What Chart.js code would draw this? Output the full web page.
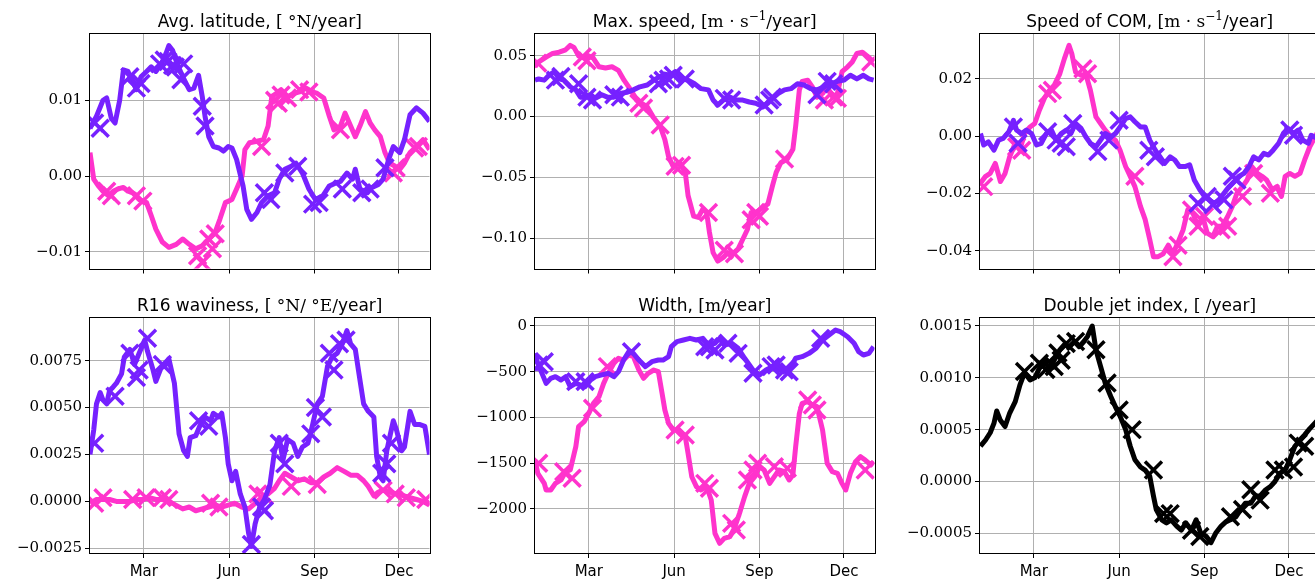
<!DOCTYPE html>
<html>
<head>
<meta charset="utf-8">
<script src="https://cdn.jsdelivr.net/npm/chart.js@4.4.0/dist/chart.umd.min.js"></script>
<style>
  html, body { margin: 0; padding: 0; background: #fff; overflow: hidden; width: 1315px; height: 582px; position: relative; }
  canvas { position: absolute; }
</style>
</head>
<body>
<canvas id="c1"></canvas>
<canvas id="c2"></canvas>
<canvas id="c3"></canvas>
<canvas id="c4"></canvas>
<canvas id="c5"></canvas>
<canvas id="c6"></canvas>
<script>
// x axis: day of year
const monthTicks = [59, 151, 243, 334]
const monthLabels = ['Mar', 'Jun', 'Sep', 'Dec']

// titles: [text, kind]  s = sans, m = math serif, sup = superscript
const titleLat = [['Avg. latitude, ', 's'], ['[ °N/', 'm'], ['year', 's'], [']', 'm']]
const titleMax = [['Max. speed, ', 's'], ['[m · s', 'm'], ['−1', 'sup'], ['/', 'm'], ['year', 's'], [']', 'm']]
const titleCom = [['Speed of COM, ', 's'], ['[m · s', 'm'], ['−1', 'sup'], ['/', 'm'], ['year', 's'], [']', 'm']]
const titleWav = [['R16 waviness, ', 's'], ['[ °N/ °E/', 'm'], ['year', 's'], [']', 'm']]
const titleWid = [['Width, ', 's'], ['[m/', 'm'], ['year', 's'], [']', 'm']]
const titleDj = [['Double jet index, ', 's'], ['[ /', 'm'], ['year', 's'], [']', 'm']]

// y ticks
const latTicks = [-0.01, 0, 0.01]
const latLabels = ['−0.01', '0.00', '0.01']
const maxTicks = [-0.10, -0.05, 0, 0.05]
const maxLabels = ['−0.10', '−0.05', '0.00', '0.05']
const comTicks = [-0.04, -0.02, 0, 0.02]
const comLabels = ['−0.04', '−0.02', '0.00', '0.02']
const wavTicks = [-0.0025, 0, 0.0025, 0.005, 0.0075]
const wavLabels = ['−0.0025', '0.0000', '0.0025', '0.0050', '0.0075']
const widTicks = [-2000, -1500, -1000, -500, 0]
const widLabels = ['−2000', '−1500', '−1000', '−500', '0']
const djTicks = [-0.0005, 0, 0.0005, 0.001, 0.0015]
const djLabels = ['−0.0005', '0.0000', '0.0005', '0.0010', '0.0015']

// Avg. latitude
const latPurple = [[1,0.0063],[8,0.0079],[15,0.0100],[19,0.0103],[24,0.0076],[28,0.0070],[33,0.0100],[37,0.0140],[42,0.0138],[46,0.0127],[51,0.0114],[56,0.0131],[62,0.0138],[67,0.0144],[72,0.0138],[78,0.0148],[83,0.0162],[86,0.0172],[90,0.0166],[95,0.0148],[101,0.0131],[108,0.0114],[113,0.0116],[118,0.0133],[122,0.0105],[125,0.0079],[129,0.0052],[134,0.0039],[140,0.0037],[145,0.0033],[150,0.0039],[154,0.0037],[159,0.0022],[166,-0.0013],[170,-0.0044],[175,-0.0057],[181,-0.0048],[186,-0.0035],[193,-0.0026],[200,-0.0022],[205,-0.0004],[211,0.0009],[218,0.0013],[223,0.0017],[230,0.0004],[237,-0.0017],[244,-0.0031],[252,-0.0026],[259,-0.0013],[266,-0.0009],[271,-0.0007],[278,0.0004],[284,-0.0004],[287,0.0009],[292,-0.0017],[300,-0.0022],[305,-0.0015],[312,-0.0011],[317,-0.0004],[323,0.0022],[328,0.0039],[335,0.0031],[340,0.0048],[346,0.0081],[353,0.0090],[360,0.0083],[367,0.0072]]
const latPink = [[1,0.0031],[5,-0.0004],[10,-0.0013],[15,-0.0020],[21,-0.0026],[26,-0.0020],[31,-0.0017],[37,-0.0015],[42,-0.0020],[47,-0.0022],[54,-0.0031],[62,-0.0035],[67,-0.0052],[72,-0.0070],[79,-0.0087],[86,-0.0094],[94,-0.0090],[101,-0.0083],[108,-0.0090],[115,-0.0096],[122,-0.0092],[129,-0.0083],[136,-0.0074],[141,-0.0057],[147,-0.0035],[154,-0.0031],[159,-0.0017],[165,0.0000],[168,0.0035],[173,0.0044],[181,0.0046],[188,0.0048],[193,0.0066],[197,0.0105],[202,0.0109],[207,0.0114],[214,0.0105],[221,0.0109],[227,0.0111],[234,0.0116],[241,0.0111],[246,0.0109],[253,0.0103],[259,0.0079],[264,0.0061],[271,0.0066],[276,0.0083],[282,0.0066],[287,0.0052],[292,0.0066],[298,0.0085],[303,0.0070],[308,0.0061],[314,0.0052],[319,0.0031],[324,0.0017],[330,0.0013],[335,0.0009],[340,0.0017],[346,0.0031],[353,0.0039],[360,0.0048],[367,0.0035]]
const latPurpleX = [[6,0.0070],[12,0.0063],[44,0.0131],[51,0.0116],[56,0.0122],[76,0.0148],[81,0.0153],[85,0.0151],[90,0.0146],[93,0.0144],[99,0.0127],[102,0.0148],[122,0.0092],[125,0.0066],[189,-0.0022],[196,-0.0031],[211,0.0004],[225,0.0013],[241,-0.0037],[248,-0.0035],[273,-0.0017],[294,-0.0022],[303,-0.0017],[319,0.0011]]
const latPinkX = [[19,-0.0020],[24,-0.0026],[51,-0.0026],[58,-0.0033],[117,-0.0105],[122,-0.0114],[129,-0.0083],[136,-0.0076],[133,-0.0096],[186,0.0039],[200,0.0100],[204,0.0096],[207,0.0107],[214,0.0103],[227,0.0114],[237,0.0111],[271,0.0061],[328,0.0004],[331,0.0011],[351,0.0037],[355,0.0039]]

// Max. speed
const maxPink = [[1,0.041],[5,0.045],[13,0.049],[20,0.052],[27,0.053],[34,0.055],[39,0.0586],[43,0.057],[48,0.050],[54,0.048],[59,0.050],[64,0.048],[70,0.041],[77,0.040],[84,0.041],[91,0.038],[97,0.030],[102,0.0245],[109,0.016],[116,0.011],[122,0.008],[129,-0.001],[136,-0.008],[141,-0.019],[145,-0.033],[150,-0.041],[157,-0.038],[163,-0.046],[166,-0.065],[172,-0.082],[177,-0.083],[182,-0.076],[186,-0.079],[189,-0.095],[193,-0.112],[198,-0.119],[204,-0.116],[209,-0.112],[214,-0.113],[220,-0.109],[225,-0.101],[230,-0.093],[234,-0.079],[239,-0.079],[245,-0.076],[252,-0.072],[257,-0.057],[261,-0.046],[266,-0.038],[273,-0.035],[279,-0.027],[282,-0.008],[286,0.022],[289,0.029],[295,0.030],[300,0.0245],[305,0.016],[311,0.019],[316,0.0245],[322,0.016],[327,0.019],[332,0.037],[338,0.041],[343,0.045],[348,0.052],[354,0.053],[359,0.050],[366,0.045]]
const maxPurple = [[1,0.030],[5,0.031],[11,0.030],[16,0.034],[22,0.037],[27,0.031],[32,0.030],[39,0.0245],[45,0.022],[50,0.016],[55,0.016],[61,0.018],[66,0.015],[73,0.018],[79,0.016],[86,0.016],[93,0.019],[100,0.020],[107,0.022],[114,0.0245],[122,0.026],[129,0.030],[136,0.033],[141,0.035],[147,0.034],[152,0.037],[159,0.031],[166,0.030],[173,0.027],[180,0.023],[188,0.022],[193,0.0136],[198,0.0095],[204,0.0136],[211,0.016],[218,0.0136],[225,0.0136],[232,0.012],[239,0.011],[247,0.008],[252,0.011],[257,0.015],[263,0.019],[270,0.022],[277,0.023],[284,0.027],[291,0.026],[298,0.023],[305,0.022],[313,0.0245],[320,0.027],[327,0.029],[334,0.030],[341,0.034],[348,0.031],[355,0.034],[361,0.031],[366,0.030]]
const maxPurpleX = [[23,0.030],[29,0.033],[48,0.027],[57,0.016],[63,0.0136],[86,0.018],[93,0.016],[134,0.027],[139,0.030],[145,0.031],[150,0.034],[163,0.031],[205,0.015],[213,0.0136],[248,0.0095],[254,0.0136],[257,0.016],[305,0.018],[316,0.029],[323,0.027]]
const maxPinkX = [[4,0.044],[52,0.049],[57,0.046],[113,0.011],[118,0.007],[136,-0.007],[152,-0.041],[159,-0.040],[188,-0.079],[205,-0.110],[216,-0.113],[234,-0.085],[239,-0.079],[243,-0.082],[270,-0.035],[313,0.0136],[323,0.016],[327,0.015],[363,0.045]]

// Speed of COM
const comPink = [[1.5,-0.0164],[7,-0.014],[12,-0.013],[17.5,-0.0095],[23,-0.0158],[28,-0.013],[33,-0.0072],[39,-0.0025],[44,-0.0049],[49,0.0009],[55,0.0032],[60,0.0044],[65,0.009],[71,0.0136],[76,0.016],[81,0.0177],[87,0.0217],[92,0.027],[97,0.0316],[100,0.0287],[104,0.0223],[110,0.0212],[115,0.0217],[120,0.016],[126,0.0067],[131,0.0044],[136,0.0021],[142,-0.0002],[147,-0.0014],[152,-0.0049],[158,-0.0106],[163,-0.014],[168,-0.0176],[174,-0.0245],[179,-0.029],[184,-0.036],[188,-0.042],[193,-0.042],[198.5,-0.041],[204,-0.038],[209,-0.041],[214.5,-0.037],[220,-0.0326],[225,-0.0257],[230.5,-0.0268],[236,-0.0314],[241,-0.028],[246,-0.0338],[252,-0.035],[257,-0.0314],[262,-0.0314],[268,-0.028],[273,-0.0245],[278,-0.0199],[284,-0.0176],[289,-0.0153],[294,-0.0106],[300,-0.013],[305,-0.014],[310,-0.0153],[316,-0.0187],[321,-0.0176],[326,-0.021],[330,-0.014],[335,-0.013],[340.5,-0.014],[346,-0.013],[351,-0.0083],[356.5,-0.0037],[366,0.002]]
const comPurple = [[1.5,0.0009],[5,-0.0031],[10,-0.002],[16,-0.0049],[21,-0.0014],[26,-0.0008],[32,0.0015],[37,0.0055],[40.5,0.0021],[46,0.0009],[51,0.0021],[56.5,0.0009],[62,-0.0031],[67,-0.0025],[72.5,0.0009],[78,0.0021],[83,-0.0014],[88.5,0.0009],[94,0.0021],[99,0.0009],[104,0.0044],[110,0.0027],[115,-0.0002],[120,-0.0025],[126,-0.0037],[131,-0.0014],[136,0.0009],[142,-0.0002],[147,0.0009],[152,0.0032],[158,0.0061],[163,0.0067],[168,0.005],[174,0.0032],[179,0.0032],[184,-0.0014],[190,-0.0049],[195,-0.0072],[200,-0.0095],[206,-0.0072],[211,-0.0083],[216,-0.0106],[222,-0.0106],[227,-0.01],[232,-0.0153],[238,-0.0187],[243,-0.021],[248,-0.0222],[253.5,-0.0234],[259,-0.0222],[264,-0.0199],[269.5,-0.0176],[275,-0.0158],[280,-0.014],[285.5,-0.013],[291,-0.0106],[296,-0.0072],[301.5,-0.0083],[307,-0.006],[312,-0.0066],[317,-0.0049],[323,-0.0025],[328,0.0009],[333,0.0027],[339,0.0009],[344,0.0021],[349,-0.0014],[355,-0.0025],[358,0.0003],[366,-0.001]]
const comPurpleX = [[37,0.0032],[42,-0.0025],[74,0.0015],[83,-0.0014],[88.5,-0.0025],[94,-0.0037],[101,0.0044],[128,-0.0054],[140,-0.0014],[151,0.0055],[183,-0.0049],[190,-0.0072],[236,-0.0234],[246,-0.021],[252,-0.0239],[264,-0.0222],[273,-0.014],[278,-0.0153],[335,0.0021],[339,0.0003]]
const comPinkX = [[5,-0.0176],[40.5,-0.0037],[46,-0.0049],[74,0.0148],[79,0.016],[112,0.0235],[117,0.0217],[168,-0.014],[209,-0.042],[214.5,-0.038],[229,-0.0257],[236,-0.0314],[243,-0.028],[261,-0.0326],[268,-0.0314],[284,-0.021],[296,-0.013],[314,-0.0199]]

// R16 waviness
const wavPurple = [[1,0.0025],[5,0.0038],[8,0.0052],[12,0.0058],[15,0.0054],[19,0.0052],[22,0.0059],[26,0.0061],[29.5,0.0063],[35,0.0068],[38,0.0077],[44,0.0081],[49,0.0073],[54,0.0079],[60,0.0086],[63,0.008],[69,0.007],[72,0.0064],[77.5,0.0071],[83,0.0073],[86,0.0076],[92,0.0063],[97,0.0036],[102,0.0027],[106,0.0024],[109,0.0034],[115,0.0035],[120,0.0041],[125,0.0045],[131,0.0043],[134,0.0047],[140,0.0045],[143,0.0047],[147,0.0034],[150,0.002],[154,0.0011],[158,0.0016],[163,0.0004],[168,-0.0003],[172,-0.0017],[175,-0.0024],[179,-0.0012],[184,-0.0003],[189,0.0001],[195,0.0009],[200,0.0027],[205,0.0034],[209,0.0022],[214,0.0033],[220,0.0031],[225,0.0024],[230,0.0029],[236,0.0031],[241,0.0041],[246,0.0052],[251.5,0.0056],[257,0.0072],[262,0.0077],[267.5,0.0079],[273,0.0084],[278,0.0091],[282,0.0084],[287,0.0081],[291,0.0068],[296,0.0052],[301,0.0048],[307,0.0045],[310,0.0024],[314,0.0013],[317,0.0011],[321,0.0027],[324,0.0034],[328,0.0043],[331.5,0.0038],[337,0.0027],[340,0.0029],[346,0.0048],[351,0.0041],[356,0.0041],[362,0.004],[367,0.0025]]
const wavPink = [[1,-0.0001],[8,0.0001],[15,0.0001],[22,0.0001],[29.5,0.0000],[37,0.0000],[44,0.0000],[51,0.0001],[58,0.0001],[65,0.0002],[72,0.0001],[79,0.0001],[86,0.0000],[93.5,-0.0002],[101,-0.0004],[108,-0.0003],[115,-0.0005],[122,-0.0004],[129,-0.0003],[136,-0.0002],[143,-0.0003],[150,-0.0002],[157,-0.0001],[164.5,-0.0003],[172,-0.0004],[179,-0.0001],[186,0.0002],[193,0.0004],[200,0.0007],[205,0.0011],[211,0.0015],[218,0.0013],[225,0.0011],[232,0.0012],[239,0.001],[246,0.001],[253,0.0013],[260,0.0015],[267.5,0.0018],[275,0.0016],[282,0.0014],[289,0.0014],[296,0.0011],[301,0.0008],[307,0.0003],[312,0.0005],[317,0.0006],[324,0.0005],[331.5,0.0004],[339,0.0003],[346,0.0002],[353,0.0001],[360,0.0000],[367,-0.0002]]
const wavPurpleX = [[6,0.0031],[28,0.0056],[44,0.0079],[51,0.0066],[54,0.007],[63,0.0087],[79,0.0073],[118,0.0043],[129,0.004],[175,-0.0023],[186,-0.0003],[189,-0.0005],[205,0.0031],[211,0.002],[239,0.0036],[244,0.005],[251.5,0.0045],[259,0.0079],[264,0.007],[270,0.0084],[277,0.0086],[315.5,0.0015],[321,0.002],[326,0.0031]]
const wavPinkX = [[6,-0.0001],[15,0.0002],[47,0.0001],[61.5,0.0002],[79,0.0002],[86,0.0001],[131,-0.0001],[140,-0.0003],[182,0.0004],[189,0.0003],[218,0.0008],[246,0.0009],[317,0.0006],[330,0.0004],[342,0.0002],[363,0.0001]]

// Width
const widPurple = [[1,-299],[4,-408],[7,-481],[13,-627],[18,-572],[23,-554],[29,-590],[34,-554],[39,-663],[45,-627],[50,-645],[55,-663],[61,-590],[66,-554],[73,-535],[80,-517],[86,-554],[91,-499],[96.5,-372],[102,-281],[107,-299],[113,-372],[120,-444],[127,-390],[134,-372],[139,-372],[145,-335],[148,-226],[154,-171],[161,-153],[168,-135],[175,-153],[182,-135],[188,-208],[195,-189],[200,-135],[205,-208],[213,-189],[220,-244],[227,-353],[236,-481],[243,-535],[250,-481],[257,-444],[264,-481],[271.5,-499],[277,-444],[282,-353],[289,-335],[296.5,-299],[304,-244],[311,-153],[318,-98],[325,-44],[330,-62],[338,-117],[345,-189],[350,-281],[355,-317],[361,-299],[366,-226]]
const widPink = [[1,-1465],[4,-1610],[11,-1720],[13,-1792],[18,-1792],[23,-1720],[29,-1683],[34,-1592],[39,-1574],[45,-1319],[48,-1100],[54,-1046],[59,-955],[64,-845],[70,-772],[75,-627],[80,-517],[86,-408],[91,-353],[96.5,-372],[102,-317],[107,-335],[113,-481],[118,-572],[123,-517],[129,-481],[134,-499],[138,-736],[141,-918],[145,-1064],[150,-1137],[155,-1137],[163,-1209],[166,-1392],[170,-1647],[175,-1756],[180,-1792],[186,-1756],[191,-1902],[195,-2266],[200,-2375],[205,-2321],[211,-2303],[216,-2211],[221.5,-2047],[227,-1865],[232,-1720],[238,-1647],[243,-1537],[248,-1574],[254,-1720],[259,-1647],[264,-1574],[270,-1592],[275,-1683],[279,-1628],[282,-1319],[286,-955],[289,-845],[295,-827],[300,-863],[305,-882],[311,-1137],[316,-1501],[321.5,-1592],[327,-1610],[332,-1720],[336,-1792],[341,-1610],[346.5,-1483],[352,-1428],[357,-1465],[363,-1519],[366,-1483]]
const widPurpleX = [[5.4,-426],[11,-390],[45,-608],[55,-608],[105,-281],[184,-226],[189,-226],[195,-262],[209,-189],[220,-299],[236,-517],[255.5,-444],[261,-426],[270,-481],[275,-499],[309,-135]]
const widPinkX = [[5,-1501],[32,-1592],[41,-1665],[63,-900],[79,-444],[152,-1137],[163,-1191],[184,-1720],[189,-1774],[213,-2157],[218,-2230],[230,-1683],[236,-1574],[241,-1501],[259,-1537],[273,-1556],[295,-809],[300,-863],[305,-918],[357,-1574]]

// Double jet index
const djBlack = [[1.5,0.00034],[7,0.0004],[12,0.00047],[16,0.00056],[19,0.00068],[23,0.00059],[28,0.00053],[33,0.00066],[39,0.00077],[44,0.00093],[49,0.00105],[55,0.00098],[60,0.001],[65,0.00109],[71,0.00116],[76,0.00108],[81,0.00117],[87,0.00127],[92,0.00132],[97,0.0013],[103,0.00135],[108,0.0013],[113,0.00135],[117,0.0014],[122,0.0015],[126,0.00127],[131,0.00111],[136,0.00095],[142,0.00082],[147,0.00072],[152,0.00063],[158,0.0005],[163,0.00034],[168,0.00021],[174,0.00014],[179,0.00011],[184,0.00005],[188,-0.00014],[191,-0.00027],[197,-0.00037],[202,-0.0004],[207,-0.00037],[213,-0.00043],[218,-0.00047],[223,-0.0004],[229,-0.00047],[234,-0.00037],[239,-0.0005],[245,-0.00053],[250,-0.00059],[255,-0.0005],[261,-0.00043],[266,-0.00039],[271,-0.00037],[277,-0.00034],[282,-0.00027],[287,-0.00021],[293,-0.00021],[298,-0.00014],[303,-0.00014],[309,-0.00008],[314,-0.00005],[319,0],[324.5,0.00008],[330,0.00011],[335,0.00021],[340.5,0.00034],[346,0.0004],[351,0.00045],[356.5,0.00051],[366,0.0006]]
const djBlackX = [[49,0.00106],[65,0.00114],[72,0.00108],[81,0.00111],[85,0.00124],[88.5,0.00117],[94,0.00133],[104,0.00135],[126,0.00127],[138,0.00095],[151,0.00069],[165,0.0005],[188,0.00011],[199,-0.00031],[206,-0.00031],[229,-0.00047],[238,-0.00053],[271,-0.00034],[284,-0.00027],[293,-0.00008],[303,-0.00018],[319,0.00011],[328,0.00011],[339,0.00014],[344,0.00037],[351,0.00034]]

const PURPLE = '#7621ff'
const PINK = '#ff33cc'
const SANS = 'DejaVu Sans'
const SERIF = 'DejaVu Serif'

const colLeft = [90, 535, 980]
const rowTop = [34, 318]
const rowH = [236, 235]
const plotW = 343

const pts = a => a.map(p => ({ x: p[0], y: p[1] }))

function lineSet(arr, color) {
  return { type: 'line', data: pts(arr), borderColor: color, borderWidth: 5, pointRadius: 0,
    tension: 0, borderJoinStyle: 'round', fill: false, clip: 0 }
}
function crossSet(arr, color) {
  return { type: 'scatter', data: pts(arr), showLine: false, pointStyle: 'crossRot', pointRadius: 12,
    pointBorderWidth: 3.5, pointBorderColor: color, pointBackgroundColor: color, borderColor: color, clip: 0 }
}

const richTitle = {
  id: 'richTitle',
  afterDraw(chart, args, opts) {
    const ctx = chart.ctx
    const a = chart.chartArea
    const fontOf = k => k === 's' ? '17px "' + SANS + '"' : k === 'sup' ? '12px "' + SERIF + '"' : '17px "' + SERIF + '"'
    let total = 0
    opts.segs.forEach(s => { ctx.font = fontOf(s[1]); total += ctx.measureText(s[0]).width })
    let x = (a.left + a.right) / 2 - total / 2
    const y = a.top - 7
    ctx.save()
    ctx.fillStyle = '#000'
    ctx.textBaseline = 'alphabetic'
    ctx.textAlign = 'left'
    opts.segs.forEach(s => {
      ctx.font = fontOf(s[1])
      ctx.fillText(s[0], x, s[1] === 'sup' ? y - 7 : y)
      x += ctx.measureText(s[0]).width
    })
    ctx.restore()
  }
}

const frame = {
  id: 'frame',
  afterDraw(chart) {
    const ctx = chart.ctx
    const a = chart.chartArea
    ctx.save()
    ctx.strokeStyle = '#000'
    ctx.lineWidth = 1
    ctx.strokeRect(Math.round(a.left) - 0.5, Math.round(a.top) - 0.5, Math.round(a.right - a.left) + 1, Math.round(a.bottom - a.top) + 1)
    ctx.restore()
  }
}

function makePanel(id, col, row, title, yMin, yMax, yTicks, yLabels, datasets) {
  const bottomSpace = row === 1 ? 30 : 14
  const cv = document.getElementById(id)
  const w = 90 + plotW + 12
  const h = 34 + rowH[row] + bottomSpace
  cv.width = w
  cv.height = h
  cv.style.left = (colLeft[col] - 90) + 'px'
  cv.style.top = (rowTop[row] - 34) + 'px'
  cv.style.width = w + 'px'
  cv.style.height = h + 'px'
  new Chart(cv.getContext('2d'), {
    data: { datasets: datasets },
    options: {
      responsive: false,
      animation: false,
      events: [],
      devicePixelRatio: 1,
      layout: { padding: { left: 0, right: 12, top: 34, bottom: 0 } },
      plugins: { legend: { display: false }, tooltip: { enabled: false }, richTitle: { segs: title } },
      scales: {
        x: {
          type: 'linear', min: 1, max: 367,
          afterBuildTicks: s => { s.ticks = monthTicks.map(v => ({ value: v })) },
          afterFit: s => { s.height = bottomSpace },
          ticks: {
            autoSkip: false, maxRotation: 0, padding: 5, color: '#000',
            font: { family: SANS, size: 15 },
            callback: (v, i) => row === 1 ? monthLabels[i] : ''
          },
          grid: { color: '#b0b0b0', tickColor: '#000', tickLength: 5, lineWidth: 1 },
          border: { display: false }
        },
        y: {
          type: 'linear', min: yMin, max: yMax,
          afterBuildTicks: s => { s.ticks = yTicks.map(v => ({ value: v })) },
          afterFit: s => { s.width = 90 },
          ticks: {
            autoSkip: false, padding: 3, color: '#000',
            font: { family: SERIF, size: 15 },
            callback: (v, i) => yLabels[i]
          },
          grid: { color: '#b0b0b0', tickColor: '#000', tickLength: 5, lineWidth: 1 },
          border: { display: false }
        }
      }
    },
    plugins: [richTitle, frame]
  })
}

makePanel('c1', 0, 0, titleLat, -0.01219, 0.01874, latTicks, latLabels,
  [crossSet(latPurpleX, PURPLE), lineSet(latPurple, PURPLE), crossSet(latPinkX, PINK), lineSet(latPink, PINK)])
makePanel('c2', 1, 0, titleMax, -0.1251, 0.068, maxTicks, maxLabels,
  [crossSet(maxPurpleX, PURPLE), lineSet(maxPurple, PURPLE), crossSet(maxPinkX, PINK), lineSet(maxPink, PINK)])
makePanel('c3', 2, 0, titleCom, -0.04612, 0.03558, comTicks, comLabels,
  [crossSet(comPurpleX, PURPLE), lineSet(comPurple, PURPLE), crossSet(comPinkX, PINK), lineSet(comPink, PINK)])
makePanel('c4', 0, 1, titleWav, -0.002751, 0.009776, wavTicks, wavLabels,
  [crossSet(wavPurpleX, PURPLE), lineSet(wavPurple, PURPLE), crossSet(wavPinkX, PINK), lineSet(wavPink, PINK)])
makePanel('c5', 1, 1, titleWid, -2481, 87.4, widTicks, widLabels,
  [crossSet(widPurpleX, PURPLE), lineSet(widPurple, PURPLE), crossSet(widPinkX, PINK), lineSet(widPink, PINK)])
makePanel('c6', 2, 1, titleDj, -0.00069, 0.001577, djTicks, djLabels,
  [crossSet(djBlackX, '#000'), lineSet(djBlack, '#000')])
</script>
</body>
</html>
